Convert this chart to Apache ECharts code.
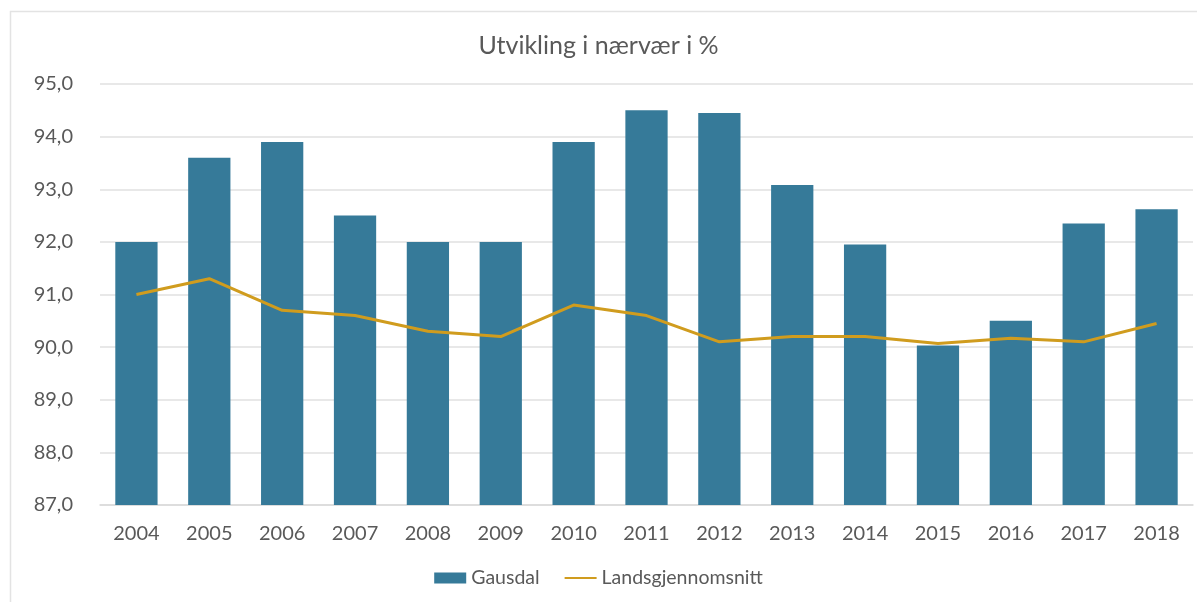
<!DOCTYPE html>
<html>
<head>
<meta charset="utf-8">
<script src="https://cdn.jsdelivr.net/npm/echarts@6/dist/echarts.min.js"></script>
<style>
html, body { margin: 0; padding: 0; background: #fff; }
#chart { width: 1197px; height: 602px; }
</style>
</head>
<body>
<div id="chart"></div>
<script>
// data
var years = ['2004','2005','2006','2007','2008','2009','2010','2011','2012','2013','2014','2015','2016','2017','2018'];
var gausdal = [92.0, 93.6, 93.9, 92.5, 92.0, 92.0, 93.9, 94.5, 94.45, 93.08, 91.95, 90.03, 90.5, 92.35, 92.62];
var landsgjennomsnitt = [91.0, 91.3, 90.7, 90.6, 90.3, 90.2, 90.8, 90.6, 90.1, 90.2, 90.2, 90.07, 90.17, 90.1, 90.45];

var txt = '#595959';
var font = 'Lato, "Open Sans", sans-serif';

var chart = echarts.init(document.getElementById('chart'));

var option = {
    backgroundColor: '#fff',
    animation: false,
    title: {
        text: 'Utvikling i nærvær i %',
        left: 'center',
        top: 28,
        textStyle: { color: txt, fontSize: 25, fontWeight: 'normal', fontFamily: font }
    },
    legend: {
        bottom: 9,
        left: 'center',
        itemGap: 24,
        itemWidth: 32,
        itemHeight: 11,
        textStyle: { color: txt, fontSize: 19.5, fontFamily: font },
        data: [
            { name: 'Gausdal', icon: 'rect' },
            { name: 'Landsgjennomsnitt', itemStyle: { opacity: 0 } }
        ]
    },
    grid: { left: 100, right: 4, top: 84, bottom: 97 },
    graphic: [{
        type: 'rect',
        shape: { x: 10.5, y: 11.5, width: 1300, height: 700 },
        style: { fill: 'none', stroke: '#e3e3e3', lineWidth: 1.5 },
        silent: true
    }],
    xAxis: {
        type: 'category',
        data: years,
        axisLine: { show: true, lineStyle: { color: '#d9d9d9', width: 1.5 } },
        axisTick: { show: false },
        axisLabel: { color: txt, fontSize: 20, fontFamily: font, margin: 19 }
    },
    yAxis: {
        type: 'value',
        min: 87,
        max: 95,
        interval: 1,
        axisLine: { show: false },
        axisTick: { show: false },
        splitLine: { lineStyle: { color: '#e1e1e1', width: 1.5 } },
        axisLabel: {
            color: txt, fontSize: 20, fontFamily: font, margin: 27,
            formatter: function (v) { return v.toFixed(1).replace('.', ','); }
        }
    },
    series: [
        {
            name: 'Gausdal',
            type: 'bar',
            data: gausdal,
            barCategoryGap: '42%',
            itemStyle: { color: '#367a99' }
        },
        {
            name: 'Landsgjennomsnitt',
            type: 'line',
            data: landsgjennomsnitt,
            symbol: 'none',
            lineStyle: { color: '#d09c1e', width: 3 },
            itemStyle: { color: '#d09c1e' }
        }
    ]
};

chart.setOption(option);
</script>
</body>
</html>
